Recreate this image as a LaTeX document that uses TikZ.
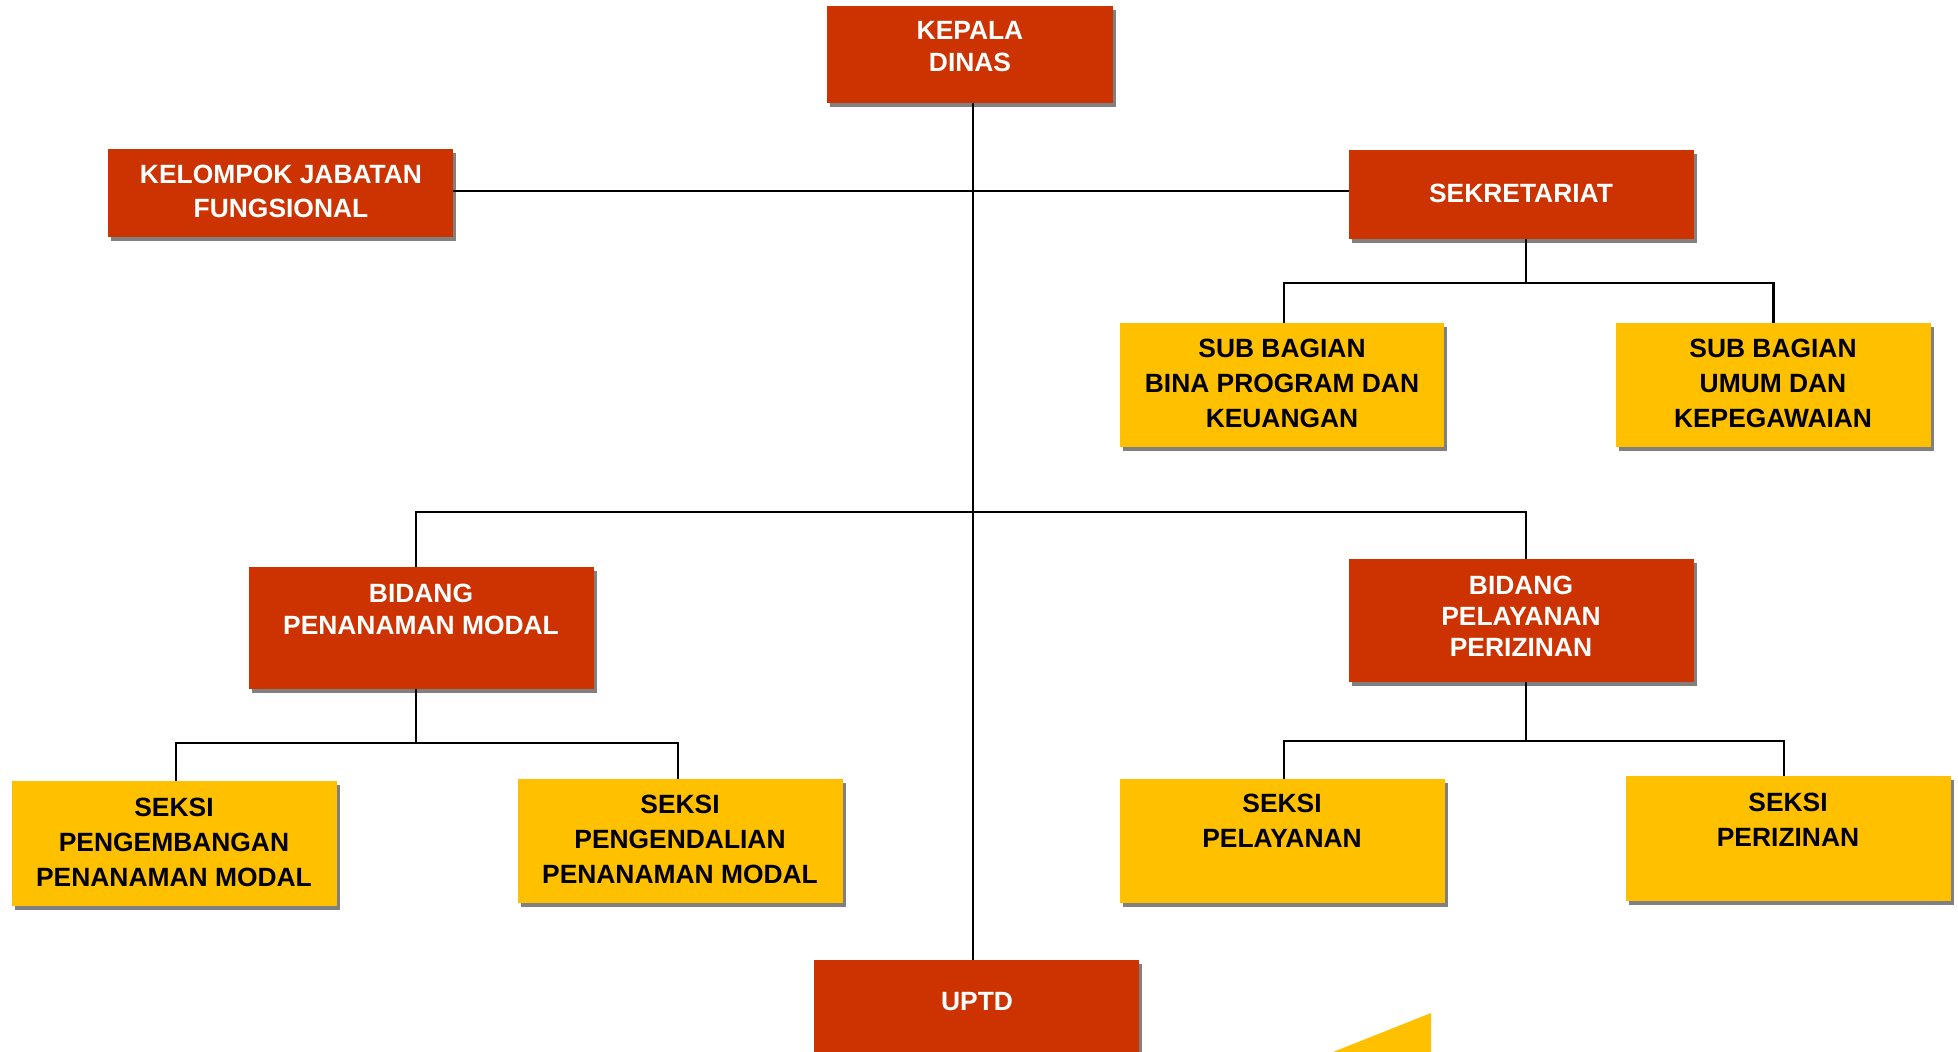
\documentclass[tikz,border=0pt]{standalone}
\usepackage{fontspec}
\setmainfont{Liberation Sans}
\usetikzlibrary{fit,shadows}
\definecolor{dred}{HTML}{CC3300}
\definecolor{dyel}{HTML}{FFC000}
\definecolor{shgray}{HTML}{808080}
\tikzset{
 orgbox/.style={inner sep=0pt, outer sep=0pt, draw=none, general shadow={fill=shgray, shadow xshift=1.5pt, shadow yshift=-2pt}},
 redbox/.style={orgbox, fill=dred},
 yelbox/.style={orgbox, fill=dyel},
 rtxt/.style={text=white, font=\fontsize{13.2}{16}\selectfont\bfseries, align=center, inner sep=0pt},
 ytxt/.style={text=black, font=\fontsize{13.2}{17.5}\selectfont\bfseries, align=center, inner sep=0pt},
 conn/.style={line width=1.2pt, black},
}
\begin{document}
\begin{tikzpicture}[x=0.5pt,y=-0.5pt]
\useasboundingbox (0,0) rectangle (1958,1052);
\clip (0,0) rectangle (1958,1052);
% boxes
\node[redbox, fit={(827,6) (1113,103)}] (kd) {};
\node[redbox, fit={(108,149) (453,237)}] (kjf) {};
\node[redbox, fit={(1349,150) (1694,239)}] (sek) {};
\node[yelbox, fit={(1120,323) (1444,447)}] (sb1) {};
\node[yelbox, fit={(1616,323) (1931,447)}] (sb2) {};
\node[redbox, fit={(249,567) (594,689)}] (bpm) {};
\node[redbox, fit={(1349,559) (1694,682)}] (bpp) {};
\node[yelbox, fit={(12,781) (337,906)}] (sp1) {};
\node[yelbox, fit={(518,779) (843,903)}] (sp2) {};
\node[yelbox, fit={(1120,779) (1445,903)}] (sp3) {};
\node[yelbox, fit={(1626,776) (1951,901)}] (sp4) {};
\node[redbox, fit={(814,960) (1139,1080)}] (uptd) {};
% texts
\node[rtxt] (kd-t) at (970,47) {KEPALA\\DINAS};
\node[rtxt, font=\fontsize{13.2}{17}\selectfont\bfseries] (kjf-t) at (281,191) {KELOMPOK JABATAN\\FUNGSIONAL};
\node[rtxt] (sek-t) at (1521,193) {SEKRETARIAT};
\node[ytxt] (sb1-t) at (1282,383) {SUB BAGIAN\\BINA PROGRAM DAN\\KEUANGAN};
\node[ytxt] (sb2-t) at (1773,383) {SUB BAGIAN\\UMUM DAN\\KEPEGAWAIAN};
\node[rtxt] (bpm-t) at (421,609) {BIDANG\\PENANAMAN MODAL};
\node[rtxt, font=\fontsize{13.2}{15.5}\selectfont\bfseries] (bpp-t) at (1521,616) {BIDANG\\PELAYANAN\\PERIZINAN};
\node[ytxt] (sp1-t) at (174,842) {SEKSI\\PENGEMBANGAN\\PENANAMAN MODAL};
\node[ytxt] (sp2-t) at (680,839) {SEKSI\\PENGENDALIAN\\PENANAMAN MODAL};
\node[ytxt] (sp3-t) at (1282,821) {SEKSI\\PELAYANAN};
\node[ytxt] (sp4-t) at (1788,820) {SEKSI\\PERIZINAN};
\node[rtxt] (uptd-t) at (977,1002) {UPTD};
% connector anchor points
\coordinate (kdb) at ([xshift=1.5pt]kd.south);
\coordinate (kjfe) at ([yshift=1pt]kjf.east);
\coordinate (sekb) at ([xshift=2.25pt]sek.south);
\coordinate (bpmb) at ([xshift=-2.75pt]bpm.south);
\coordinate (bppb) at ([xshift=2.25pt]bpp.south);
\coordinate (bj) at (kdb |- 0,512);
\coordinate (sj) at (sekb |- 0,283);
\coordinate (mj) at (bpmb |- 0,743);
\coordinate (pj) at (bppb |- 0,741);
% connectors
\draw[conn] (kdb) -- (kdb |- uptd.north);
\draw[conn] (kjfe) -- (kjfe -| sek.west);
\draw[conn] (sekb) -- (sj);
\draw[conn] ([xshift=1pt]sb1.north) |- (sj) -| (sb2.north);
\draw[conn] ([xshift=-2.75pt]bpm.north) |- (bj) -| ([xshift=2.25pt]bpp.north);
\draw[conn] (bpmb) -- (mj);
\draw[conn] ([xshift=0.75pt]sp1.north) |- (mj) -| ([xshift=-1.25pt]sp2.north);
\draw[conn] (bppb) -- (pj);
\draw[conn] ([xshift=0.75pt]sp3.north) |- (pj) -| ([xshift=-2.25pt]sp4.north);
% decorative corner shape
\fill[dyel] (1333,1052) -- (1431,1013) -- (1431,1052) -- cycle;
\end{tikzpicture}
\end{document}
